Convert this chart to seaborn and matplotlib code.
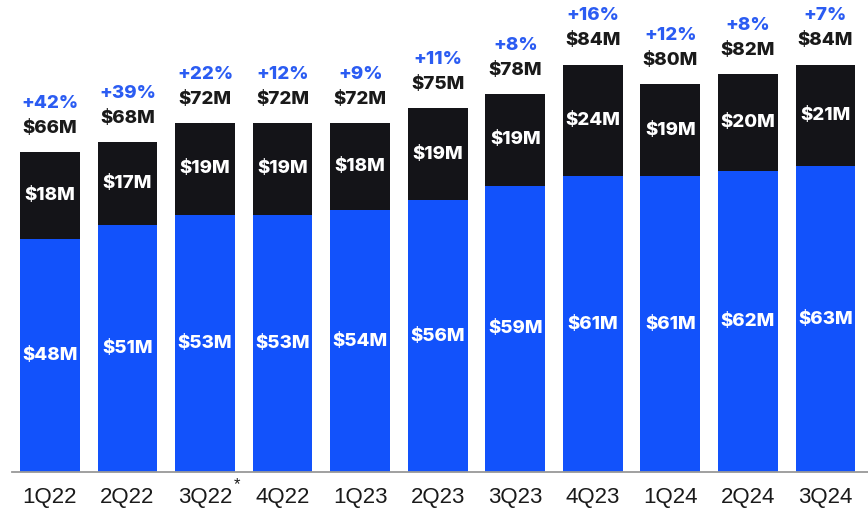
import matplotlib
matplotlib.use("Agg")
import matplotlib.pyplot as plt
import seaborn as sns
import pandas as pd

quarters = ["1Q22", "2Q22", "3Q22", "4Q22", "1Q23", "2Q23",
            "3Q23", "4Q23", "1Q24", "2Q24", "3Q24"]
subscription = [48, 51, 53, 53, 54, 56, 59, 61, 61, 62, 63]
other = [18, 17, 19, 19, 18, 19, 19, 24, 19, 20, 21]
totals = [66, 68, 72, 72, 72, 75, 78, 84, 80, 82, 84]
growth = ["+42%", "+39%", "+22%", "+12%", "+9%", "+11%",
          "+8%", "+16%", "+12%", "+8%", "+7%"]

BLUE = "#1252FB"
BLACK = "#141418"
GROWTH_BLUE = "#2B5CF2"

df = pd.DataFrame({"quarter": quarters, "subscription": subscription,
                   "other": other, "total": totals})

sns.set_theme(style="white")
plt.rcParams["font.family"] = ["Liberation Sans", "DejaVu Sans"]

fig = plt.figure(figsize=(8.68, 5.14), dpi=100)
ax = fig.add_axes([12 / 868, 42 / 514, 856 / 868, 472 / 514])

# full-height dark bars, then the blue base segment on top of them
sns.barplot(data=df, x="quarter", y="total", color=BLACK, saturation=1,
            width=0.77, linewidth=0, ax=ax)
sns.barplot(data=df, x="quarter", y="subscription", color=BLUE, saturation=1,
            width=0.77, linewidth=0, ax=ax)

lab = dict(family=["Inter", "DejaVu Sans"], weight="heavy", fontsize=13.5)
for i, (s, o, t, g) in enumerate(zip(subscription, other, totals, growth)):
    ax.text(i, s / 2, f"${s}M", color="white", ha="center", va="center", **lab)
    ax.text(i, (s + t) / 2, f"${o}M", color="white", ha="center", va="center", **lab)
    ax.annotate(f"${t}M", xy=(i, t), xytext=(0, 17), textcoords="offset points",
                ha="center", va="center", color="#1a1a1a", **lab)
    ax.annotate(g, xy=(i, t), xytext=(0, 35), textcoords="offset points",
                ha="center", va="center", color=GROWTH_BLUE, **lab)

ax.set_xlim(-0.49, 10.55)
ax.set_ylim(0, 97.3)
ax.set_xlabel("")
ax.set_ylabel("")
ax.set_yticks([])
ax.tick_params(axis="x", length=0, pad=11, labelsize=16, labelcolor="#1a1a1a")
for lbl in ax.get_xticklabels():
    lbl.set_family(["Liberation Sans", "DejaVu Sans"])

for side in ["top", "left", "right"]:
    ax.spines[side].set_visible(False)
ax.spines["bottom"].set_color("#999999")
ax.spines["bottom"].set_linewidth(1.3)

# footnote marker on 3Q22
ax.annotate("*", xy=(2, 0), xytext=(23, -9), textcoords="offset points",
            ha="center", va="center", fontsize=12, color="#1a1a1a")

fig.savefig("out.png", dpi=100)
